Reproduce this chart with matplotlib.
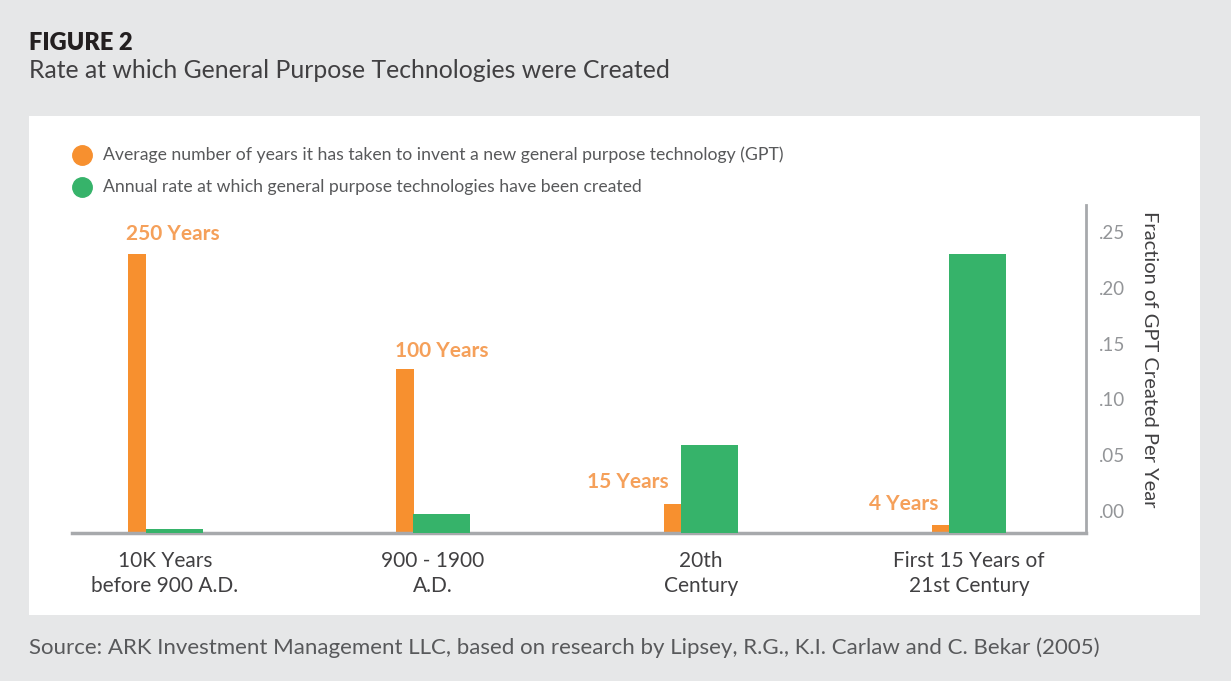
import matplotlib
matplotlib.use("Agg")
import matplotlib.pyplot as plt
import matplotlib.transforms as mtransforms
from matplotlib.lines import Line2D
import numpy as np

# ---- data ----
categories = ["10K Years\nbefore 900 A.D.", "900 - 1900\nA.D.", "20th\nCentury", "First 15 Years of\n21st Century"]
years_heights = [250, 147, 26, 7]          # orange bar heights as drawn (hidden years scale)
years_labels = ["250 Years", "100 Years", "15 Years", "4 Years"]
gpt_rate = [0.004, 0.017, 0.079, 0.25]     # green bars, fraction of GPT created per year
rate_ticks = [0.0, 0.05, 0.10, 0.15, 0.20, 0.25]
rate_ticklabels = [".00", ".05", ".10", ".15", ".20", ".25"]
legend_labels = ["Average number of years it has taken to invent a new general purpose technology (GPT)",
                 "Annual rate at which general purpose technologies have been created"]

ORANGE = "#F7902F"
GREEN = "#36B36A"
BG = "#E6E7E8"
FONT = ["Lato", "DejaVu Sans"]
plt.rcParams["font.family"] = FONT

W, H = 1231, 681
fig = plt.figure(figsize=(W / 100, H / 100), dpi=100)
fig.patch.set_facecolor(BG)

def fx(px):
    return px / W

def fy(py):
    return 1 - py / H

# white panel
panel = matplotlib.patches.Rectangle((fx(29), fy(615)), fx(1200) - fx(29), fy(116) - fy(615),
                                     transform=fig.transFigure, facecolor="white", edgecolor="none", zorder=-5)
fig.patches.append(panel)

# titles
fig.text(fx(29), fy(43), "FIGURE 2", fontsize=17, fontweight="heavy", color="#231F20", va="center", ha="left")
fig.text(fx(29), fy(70), "Rate at which General Purpose Technologies were Created", fontsize=17.8,
         color="#414042", va="center", ha="left")
fig.text(fx(29), fy(648), "Source: ARK Investment Management LLC, based on research by Lipsey, R.G., K.I. Carlaw and C. Bekar (2005)",
         fontsize=16, color="#58595B", va="center", ha="left")

# axes
ax_left, ax_right, ax_top, ax_bot = 72, 1086, 205, 533
ax = fig.add_axes([fx(ax_left), fy(ax_bot), fx(ax_right) - fx(ax_left), fy(ax_top) - fy(ax_bot)])
ax.set_facecolor("none")
ax2 = ax.twinx()

x = np.arange(len(categories))
spacing_px = 268.0
ow = 18 / spacing_px
gw = 57 / spacing_px
o_off = -28 / spacing_px
g_off = 9 / spacing_px

bars_o = ax.bar(x + o_off, years_heights, width=ow, color=ORANGE, zorder=3)
bars_g = ax2.bar(x + g_off, gpt_rate, width=gw, color=GREEN, zorder=3)

xl = -(165 - ax_left) / spacing_px
xr = (ax_right - 165) / spacing_px
ax.set_xlim(xl, xr)
plot_h = ax_bot - ax_top
ax.set_ylim(0, 250 * plot_h / 279)
ax2.set_ylim(0, 0.25 * plot_h / 279)

for a in (ax, ax2):
    for s in ("top", "left", "right", "bottom"):
        a.spines[s].set_visible(False)
ax2.spines["right"].set_visible(True)
ax2.spines["right"].set_color("#A7A9AC")
ax2.spines["right"].set_linewidth(2)
ax.spines["bottom"].set_visible(True)
ax.spines["bottom"].set_color("#A7A9AC")
ax.spines["bottom"].set_linewidth(2.5)
ax.spines["bottom"].set_zorder(5)

ax.set_yticks([])
ax.set_xticks(x)
ax.set_xticklabels(categories, fontsize=15, color="#414042", linespacing=1.28)
ax.tick_params(axis="x", length=0, pad=13)

ax2.set_yticks(rate_ticks)
ax2.set_yticklabels(rate_ticklabels, fontsize=13.5, color="#939598")
ax2.tick_params(axis="y", length=0, pad=9)
offset = mtransforms.ScaledTranslation(0, 22 / 100, fig.dpi_scale_trans)
for lab in ax2.get_yticklabels():
    lab.set_transform(lab.get_transform() + offset)
ax2.set_ylabel("Fraction of GPT Created Per Year", rotation=270, fontsize=14.5, color="#414042")
ax2.yaxis.set_label_coords((1158 - ax_left) / (ax_right - ax_left), (ax_bot - 359) / plot_h)

# bar labels
label_ha = ["left", "left", "right", "right"]
label_dx_px = [-2, -1, 5, 6]
label_dy_px = [20, 18, 22, 21]
for b, txt, ha, dx, dy in zip(bars_o, years_labels, label_ha, label_dx_px, label_dy_px):
    ax.annotate(txt, xy=(b.get_x(), b.get_height()), xytext=(dx * 0.72, dy * 0.72),
                textcoords="offset points", ha=ha, va="center", fontsize=15,
                fontweight="bold", color="#F5A05A", zorder=4)

# legend
for i, (lab, col) in enumerate(zip(legend_labels, [ORANGE, GREEN])):
    yy = 155 + i * 32
    fig.lines.append(Line2D([fx(82)], [fy(yy)], marker="o", markersize=14, color=col,
                            linestyle="none", transform=fig.transFigure))
    fig.text(fx(103), fy(yy), lab, fontsize=12.7, color="#58595B", va="center", ha="left")

fig.savefig("out.png", dpi=100, facecolor=BG)
